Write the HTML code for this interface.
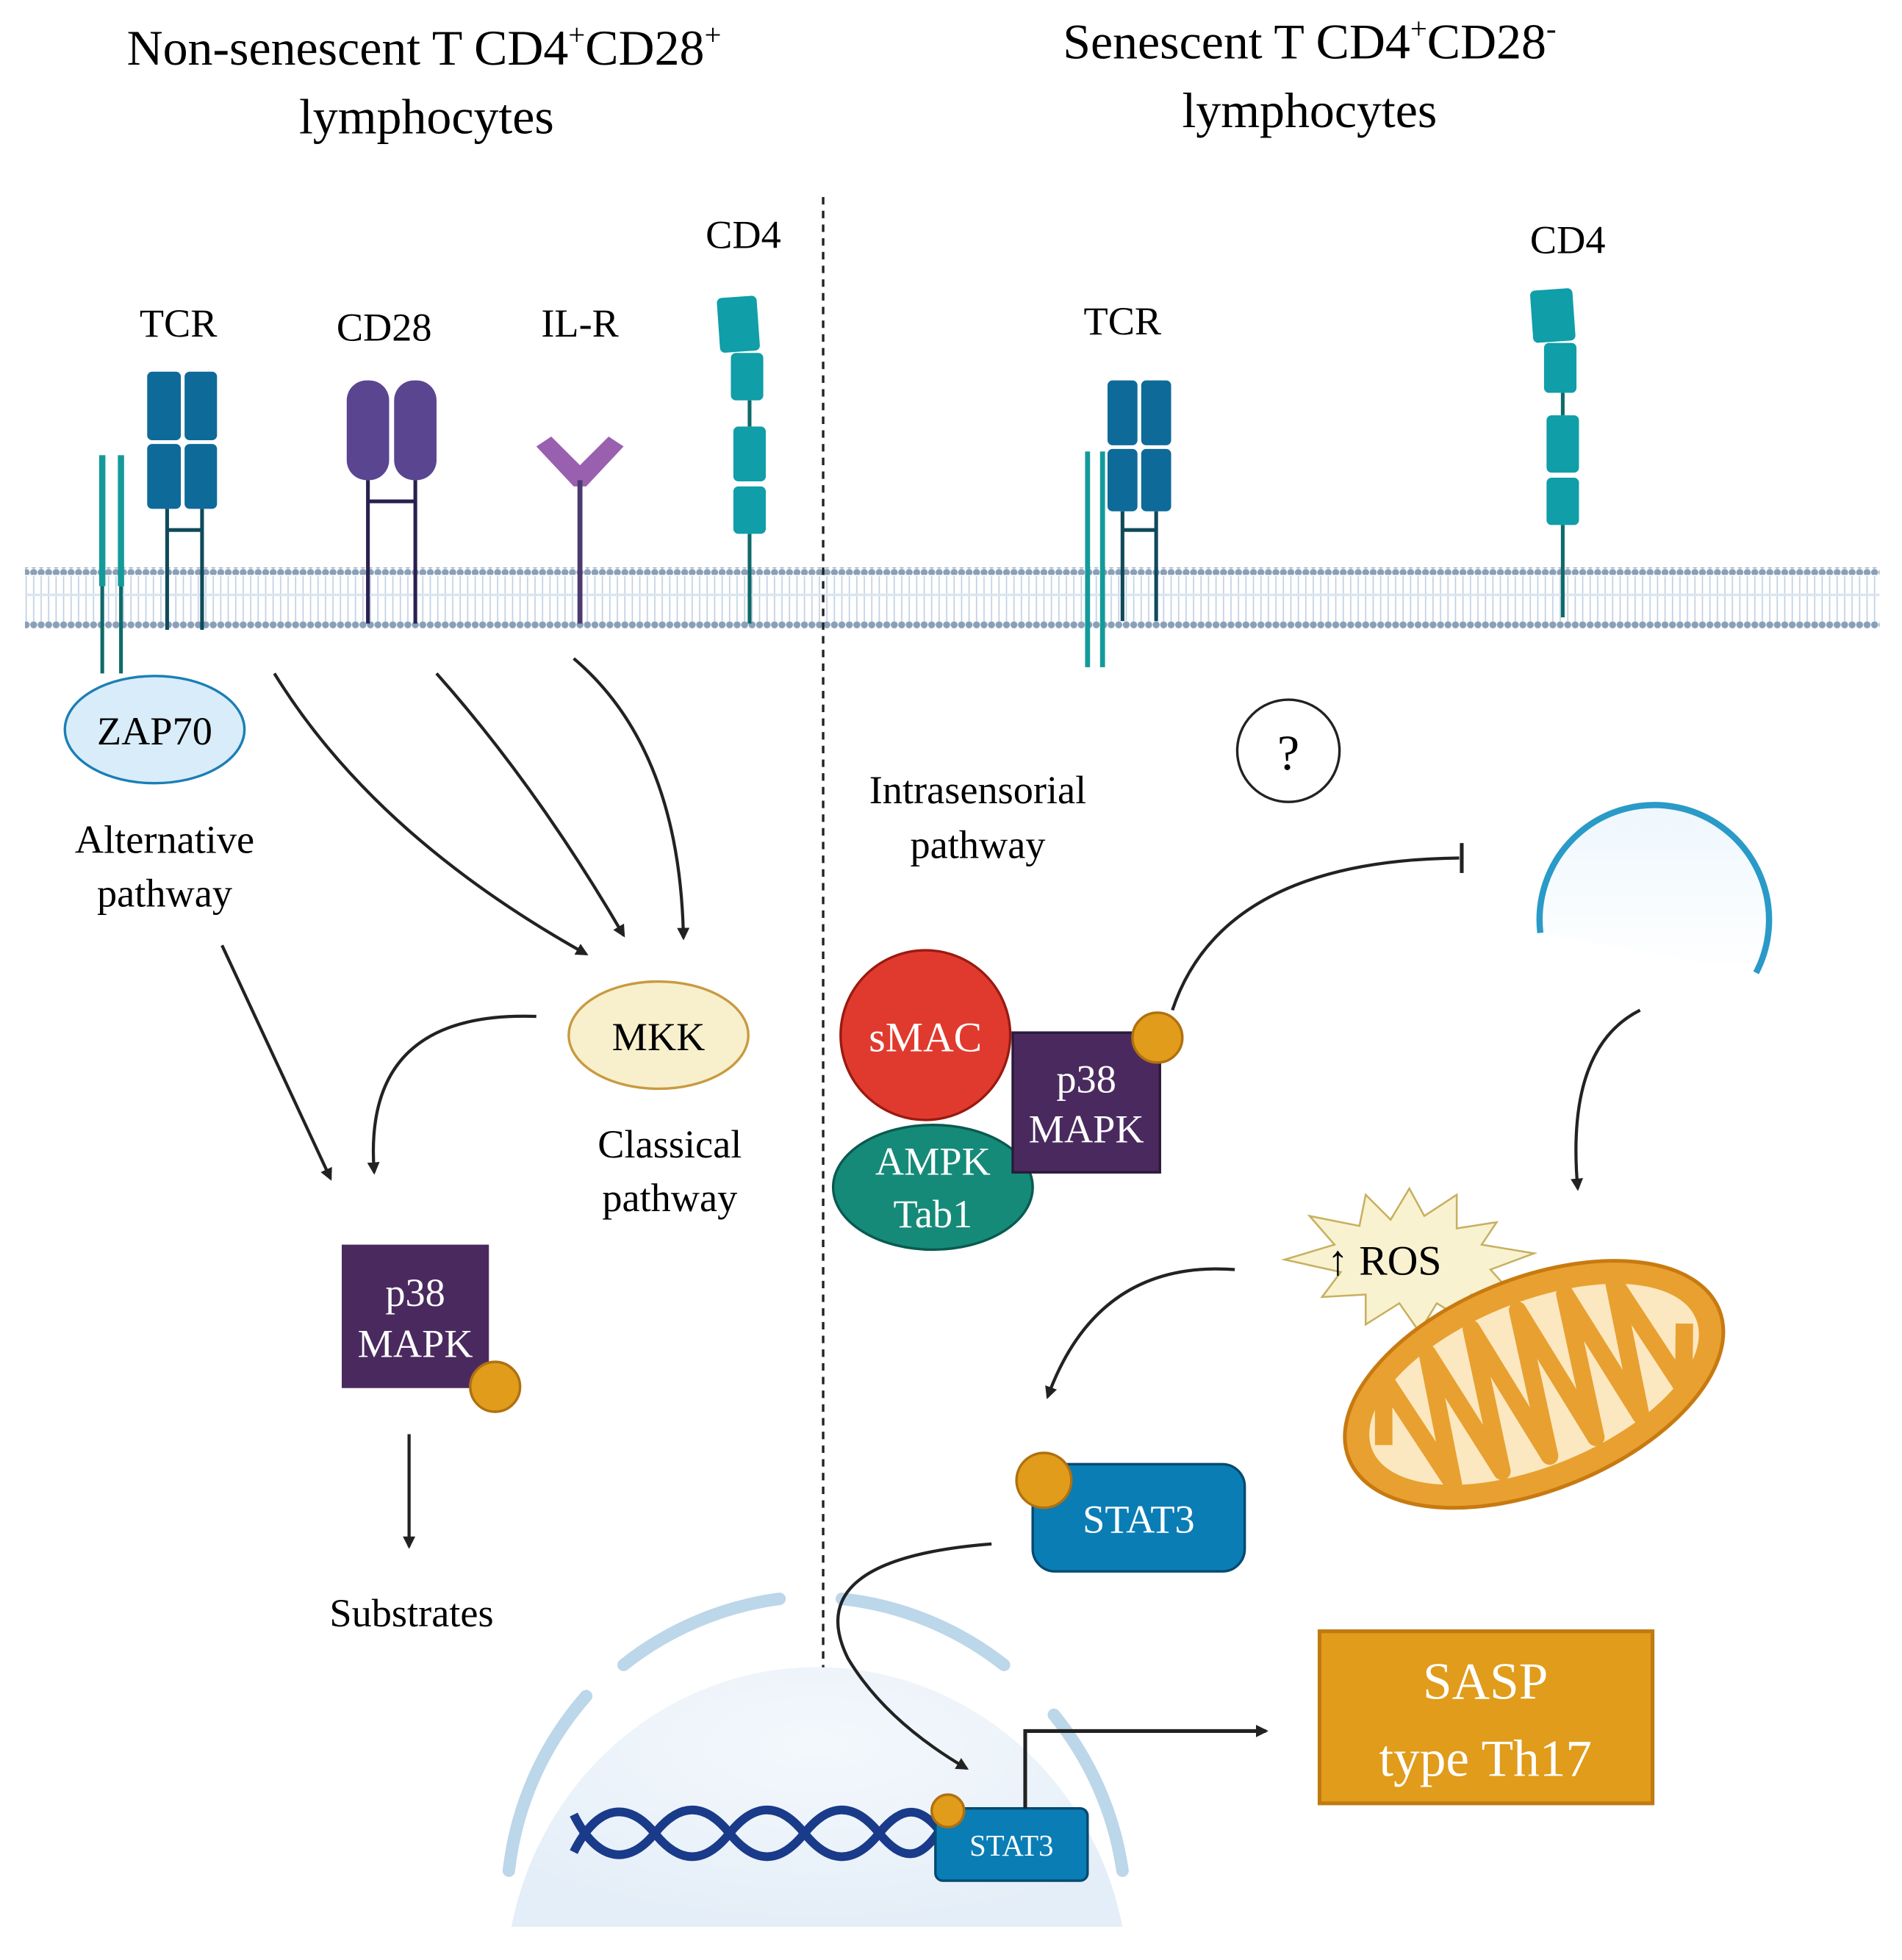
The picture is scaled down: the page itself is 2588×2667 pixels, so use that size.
<!DOCTYPE html>
<html><head><meta charset="utf-8"><style>
html,body{margin:0;padding:0;background:#fff;}
svg{display:block;}
text{font-family:"Liberation Serif",serif;}
</style></head><body>
<svg width="2588" height="2667" viewBox="0 0 1525 1571.6" xmlns="http://www.w3.org/2000/svg" preserveAspectRatio="none">
<defs>
<marker id="ar" markerWidth="10" markerHeight="10" refX="8" refY="5" orient="auto" markerUnits="userSpaceOnUse"><path d="M0,0 L10,5 L0,10 Z" fill="#222"/></marker>
<radialGradient id="nuc" cx="0.5" cy="0.3" r="0.7"><stop offset="0" stop-color="#f4f8fc"/><stop offset="1" stop-color="#e4eef8"/></radialGradient>
<linearGradient id="ves" x1="0" y1="0" x2="0" y2="1"><stop offset="0" stop-color="#eef7fd"/><stop offset="1" stop-color="#ffffff"/></linearGradient>
<pattern id="dots" x="0" y="0" width="6" height="6" patternUnits="userSpaceOnUse"><circle cx="3" cy="3" r="2.8" fill="#8aa0b8"/></pattern>
<pattern id="tails" x="0" y="0" width="6" height="10" patternUnits="userSpaceOnUse"><line x1="3" y1="0" x2="3" y2="10" stroke="#c0d0e2" stroke-width="1"/></pattern>
</defs>

<text x="340" y="52" font-size="40" text-anchor="middle">Non-senescent T CD4<tspan font-size="24" dy="-16">+</tspan><tspan dy="16">CD28</tspan><tspan font-size="24" dy="-16">+</tspan></text>
<text x="342" y="107" font-size="40" text-anchor="middle">lymphocytes</text>
<text x="1050" y="47" font-size="40" text-anchor="middle">Senescent T CD4<tspan font-size="24" dy="-16">+</tspan><tspan dy="16">CD28</tspan><tspan font-size="24" dy="-16">-</tspan></text>
<text x="1050" y="102" font-size="40" text-anchor="middle">lymphocytes</text>

<rect x="20" y="462" width="1487" height="36" fill="url(#tails)"/>
<rect x="20" y="455" width="1487" height="6" fill="url(#dots)"/>
<rect x="20" y="498" width="1487" height="6" fill="url(#dots)"/>
<rect x="20" y="476" width="1487" height="2" fill="#dbe5f0"/>

<line x1="660" y1="158" x2="660" y2="1540" stroke="#222" stroke-width="2" stroke-dasharray="6,5"/>

<path d="M410,1545 A250,260 0 0 1 900,1545 Z" fill="url(#nuc)"/>
<g fill="none" stroke="#bcd6ea" stroke-width="10" stroke-linecap="round">
<path d="M408,1500 A255,255 0 0 1 470,1360"/>
<path d="M500,1335 A255,255 0 0 1 625,1282"/>
<path d="M675,1282 A255,255 0 0 1 805,1335"/>
<path d="M845,1375 A255,255 0 0 1 900,1500"/>
</g>

<g fill="#0e6a99">
<rect x="118" y="298" width="27" height="55" rx="4"/><rect x="118" y="356" width="27" height="52" rx="4"/>
<rect x="148" y="298" width="26" height="55" rx="4"/><rect x="148" y="356" width="26" height="52" rx="4"/>
</g>
<g stroke="#0f4a5a" stroke-width="3"><line x1="134" y1="408" x2="134" y2="505"/><line x1="162" y1="408" x2="162" y2="505"/><line x1="134" y1="425" x2="162" y2="425"/></g>
<g stroke="#159a9a" stroke-width="5"><line x1="82" y1="365" x2="82" y2="470"/><line x1="97" y1="365" x2="97" y2="470"/></g>
<g stroke="#0f6a6a" stroke-width="3"><line x1="82" y1="470" x2="82" y2="540"/><line x1="97" y1="470" x2="97" y2="540"/></g>
<text x="143" y="270" font-size="32" text-anchor="middle">TCR</text>

<rect x="278" y="305" width="34" height="80" rx="16" fill="#5a4590"/>
<rect x="316" y="305" width="34" height="80" rx="16" fill="#5a4590"/>
<g stroke="#2a2050" stroke-width="3"><line x1="295" y1="385" x2="295" y2="500"/><line x1="333" y1="385" x2="333" y2="500"/><line x1="295" y1="402" x2="333" y2="402"/></g>
<text x="308" y="273" font-size="32" text-anchor="middle">CD28</text>

<path d="M430,358 L442,350 L465,373 L488,350 L500,358 L470,390 L460,390 Z" fill="#9a60b0"/>
<line x1="465" y1="385" x2="465" y2="500" stroke="#4a3a70" stroke-width="4"/>
<text x="465" y="270" font-size="32" text-anchor="middle">IL-R</text>

<g fill="#109ea8">
<rect x="576" y="238" width="32" height="44" rx="4" transform="rotate(-4 592 260)"/>
<rect x="586" y="283" width="26" height="38" rx="4"/>
<rect x="588" y="342" width="26" height="44" rx="4"/>
<rect x="588" y="390" width="26" height="38" rx="4"/>
</g>
<line x1="601" y1="321" x2="601" y2="342" stroke="#0f6a6a" stroke-width="3"/>
<line x1="601" y1="428" x2="601" y2="500" stroke="#0f6a6a" stroke-width="3"/>
<text x="596" y="199" font-size="32" text-anchor="middle">CD4</text>

<g fill="#0e6a99">
<rect x="888" y="305" width="24" height="52" rx="4"/><rect x="888" y="360" width="24" height="50" rx="4"/>
<rect x="915" y="305" width="24" height="52" rx="4"/><rect x="915" y="360" width="24" height="50" rx="4"/>
</g>
<g stroke="#0f4a5a" stroke-width="3"><line x1="900" y1="410" x2="900" y2="498"/><line x1="927" y1="410" x2="927" y2="498"/><line x1="900" y1="425" x2="927" y2="425"/></g>
<g stroke="#159a9a" stroke-width="4"><line x1="872" y1="362" x2="872" y2="535"/><line x1="884" y1="362" x2="884" y2="535"/></g>
<text x="900" y="268" font-size="32" text-anchor="middle">TCR</text>

<g fill="#109ea8">
<rect x="1228" y="232" width="34" height="42" rx="4" transform="rotate(-4 1245 253)"/>
<rect x="1238" y="275" width="26" height="40" rx="4"/>
<rect x="1240" y="333" width="26" height="46" rx="4"/>
<rect x="1240" y="383" width="26" height="38" rx="4"/>
</g>
<line x1="1253" y1="315" x2="1253" y2="333" stroke="#0f6a6a" stroke-width="3"/>
<line x1="1253" y1="421" x2="1253" y2="495" stroke="#0f6a6a" stroke-width="3"/>
<text x="1257" y="203" font-size="32" text-anchor="middle">CD4</text>

<ellipse cx="124" cy="585" rx="72" ry="43" fill="#d9ecf9" stroke="#1a7fb5" stroke-width="2"/>
<text x="124" y="597" font-size="32" text-anchor="middle">ZAP70</text>
<text x="132" y="684" font-size="32" text-anchor="middle">Alternative</text>
<text x="132" y="727" font-size="32" text-anchor="middle">pathway</text>

<g fill="none" stroke="#222" stroke-width="2.5" marker-end="url(#ar)">
<path d="M220,540 Q300,670 470,765"/>
<path d="M350,540 Q430,630 500,750"/>
<path d="M460,528 Q545,600 548,752"/>
<path d="M430,815 Q290,810 300,940"/>
<path d="M178,758 L265,945"/>
<path d="M328,1150 L328,1240"/>
</g>

<ellipse cx="528" cy="830" rx="72" ry="43" fill="#f8f0cc" stroke="#c89a40" stroke-width="2"/>
<text x="528" y="842" font-size="32" text-anchor="middle">MKK</text>
<text x="537" y="928" font-size="32" text-anchor="middle">Classical</text>
<text x="537" y="971" font-size="32" text-anchor="middle">pathway</text>

<rect x="274" y="998" width="118" height="115" fill="#4a2a5e"/>
<text x="333" y="1047" font-size="32" fill="#fff" text-anchor="middle">p38</text>
<text x="333" y="1088" font-size="32" fill="#fff" text-anchor="middle">MAPK</text>
<circle cx="397" cy="1112" r="20" fill="#e09c1a" stroke="#b07010" stroke-width="2"/>
<text x="330" y="1304" font-size="32" text-anchor="middle">Substrates</text>

<circle cx="1033" cy="602" r="41" fill="#fff" stroke="#222" stroke-width="2"/>
<text x="1033" y="617" font-size="40" text-anchor="middle">?</text>
<text x="784" y="644" font-size="32" text-anchor="middle">Intrasensorial</text>
<text x="784" y="688" font-size="32" text-anchor="middle">pathway</text>

<path d="M940,810 Q980,690 1170,688" fill="none" stroke="#222" stroke-width="2.5"/>
<line x1="1172" y1="676" x2="1172" y2="700" stroke="#222" stroke-width="3"/>

<path d="M1235,748 A92,92 0 1 1 1408,780" fill="url(#ves)" stroke="none"/>
<path d="M1235,748 A92,92 0 1 1 1408,780" fill="none" stroke="#2a9ac8" stroke-width="5"/>
<path d="M1315,810 Q1255,840 1265,953" fill="none" stroke="#222" stroke-width="2.5" marker-end="url(#ar)"/>

<ellipse cx="748" cy="952" rx="80" ry="50" fill="#158a78" stroke="#0a5a50" stroke-width="2"/>
<circle cx="742" cy="830" r="68" fill="#e03a2e" stroke="#9a1a10" stroke-width="2"/>
<text x="742" y="843" font-size="34" fill="#fff" text-anchor="middle">sMAC</text>
<text x="748" y="942" font-size="32" fill="#fff" text-anchor="middle">AMPK</text>
<text x="748" y="984" font-size="32" fill="#fff" text-anchor="middle">Tab1</text>
<rect x="812" y="828" width="118" height="112" fill="#4a2a5e" stroke="#2a1a3a" stroke-width="2"/>
<text x="871" y="876" font-size="32" fill="#fff" text-anchor="middle">p38</text>
<text x="871" y="916" font-size="32" fill="#fff" text-anchor="middle">MAPK</text>
<circle cx="928" cy="832" r="20" fill="#e09c1a" stroke="#b07010" stroke-width="2"/>

<polygon points="1130,953 1142,975 1168,958 1168,985 1200,980 1188,998 1230,1005 1195,1018 1215,1040 1180,1038 1180,1062 1152,1045 1138,1068 1122,1045 1095,1062 1095,1038 1060,1040 1075,1020 1030,1010 1070,998 1050,975 1090,983 1095,958 1115,978" fill="#f8f2d0" stroke="#c8b060" stroke-width="1.5"/>
<text x="1110" y="1022" font-size="34" text-anchor="middle">↑ ROS</text>

<g transform="rotate(-22 1230 1110)">
<ellipse cx="1230" cy="1110" rx="160" ry="85" fill="#e8a030" stroke="#c87a10" stroke-width="3"/>
<ellipse cx="1230" cy="1110" rx="140" ry="66" fill="#fce8c0"/>
<path d="M1100,1110 L1120,1060 L1140,1160 L1160,1055 L1180,1165 L1200,1050 L1220,1168 L1240,1050 L1260,1168 L1280,1052 L1300,1165 L1320,1058 L1340,1158 L1360,1110" fill="none" stroke="#e8a030" stroke-width="14" stroke-linejoin="round"/>
</g>

<path d="M990,1018 Q880,1010 840,1120" fill="none" stroke="#222" stroke-width="2.5" marker-end="url(#ar)"/>

<rect x="828" y="1174" width="170" height="86" rx="18" fill="#0a7db5" stroke="#064a70" stroke-width="2"/>
<text x="913" y="1229" font-size="32" fill="#fff" text-anchor="middle">STAT3</text>
<circle cx="837" cy="1187" r="22" fill="#e09c1a" stroke="#b07010" stroke-width="2"/>
<path d="M795,1238 Q640,1250 680,1330 Q710,1380 775,1418" fill="none" stroke="#222" stroke-width="2.5" marker-end="url(#ar)"/>

<g fill="none" stroke="#1a3a8a" stroke-width="7">
<path d="M460,1455 C480,1495 505,1495 525,1470 C545,1445 565,1445 585,1470 C605,1495 625,1495 645,1470 C665,1445 685,1445 705,1470 C725,1495 740,1490 755,1465"/>
<path d="M460,1485 C480,1445 505,1445 525,1470 C545,1495 565,1495 585,1470 C605,1445 625,1445 645,1470 C665,1495 685,1495 705,1470 C725,1445 740,1450 755,1470"/>
</g>
<rect x="750" y="1450" width="122" height="58" rx="6" fill="#0a7db5" stroke="#064a70" stroke-width="2"/>
<text x="811" y="1488" font-size="24" fill="#fff" text-anchor="middle">STAT3</text>
<circle cx="760" cy="1452" r="13" fill="#e09c1a" stroke="#b07010" stroke-width="2"/>
<path d="M822,1450 L822,1388 L1015,1388" fill="none" stroke="#222" stroke-width="3" marker-end="url(#ar)"/>

<rect x="1058" y="1308" width="267" height="138" fill="#e09c1a" stroke="#c07a10" stroke-width="3"/>
<text x="1191" y="1362" font-size="42" fill="#fff" text-anchor="middle">SASP</text>
<text x="1191" y="1424" font-size="42" fill="#fff" text-anchor="middle">type Th17</text>
</svg>
</body></html>
